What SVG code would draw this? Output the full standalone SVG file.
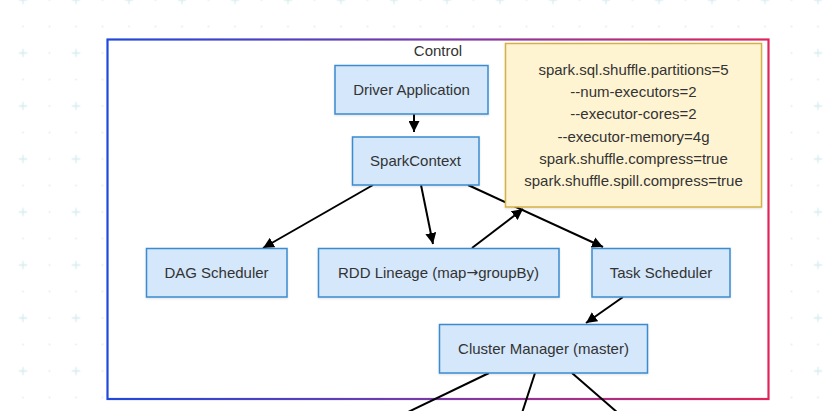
<svg xmlns="http://www.w3.org/2000/svg" width="834" height="411" viewBox="0 0 834 411">
  <defs>
    <pattern id="grid" patternUnits="userSpaceOnUse" x="-3.5" y="-26.5" width="53" height="53">
      <path d="M22.5,26.5 H30.5 M26.5,22.5 V30.5" stroke="#d6ecef" stroke-width="1.3" fill="none"/>
      <circle cx="0" cy="0" r="1" fill="#e0eef0"/>
      <circle cx="53" cy="0" r="1" fill="#e0eef0"/>
      <circle cx="0" cy="53" r="1" fill="#e0eef0"/>
      <circle cx="53" cy="53" r="1" fill="#e0eef0"/>
      <circle cx="26.5" cy="0" r="1" fill="#e0eef0"/>
      <circle cx="26.5" cy="53" r="1" fill="#e0eef0"/>
      <circle cx="0" cy="26.5" r="1" fill="#e0eef0"/>
      <circle cx="53" cy="26.5" r="1" fill="#e0eef0"/>
    </pattern>
    <linearGradient id="border" x1="0" y1="0" x2="1" y2="0">
      <stop offset="0" stop-color="#1f48dc"/>
      <stop offset="0.5" stop-color="#7a3aa8"/>
      <stop offset="1" stop-color="#e0245a"/>
    </linearGradient>
    <marker id="arrow" viewBox="0 0 10 10" refX="10" refY="5" markerWidth="11" markerHeight="11" markerUnits="userSpaceOnUse" orient="auto">
      <path d="M0,0 L10,5 L0,10 z" fill="#000"/>
    </marker>
    <filter id="shadow" x="-10%" y="-10%" width="120%" height="130%">
      <feDropShadow dx="0" dy="1" stdDeviation="1" flood-color="#000" flood-opacity="0.12"/>
    </filter>
  </defs>
  <style>
    .node rect { fill: #d4e7fb; stroke: #3b8bcf; stroke-width: 1.5; }
    .lbl { font-family: "Liberation Sans", Arial, sans-serif; font-size: 15px; fill: #333; text-anchor: middle; dominant-baseline: central; }
    .arr { font-family: "DejaVu Sans", sans-serif; font-size: 14px; }
    .edge { stroke: #000; stroke-width: 2; fill: none; }
    .note rect { fill: #fff4d2; stroke: #d4b048; stroke-width: 1.5; }
  </style>

  <rect x="0" y="0" width="834" height="411" fill="#ffffff"/>
  <rect x="0" y="0" width="834" height="411" fill="url(#grid)"/>

  <g id="control">
    <rect x="107.5" y="39.5" width="661" height="359.5" fill="#ffffff" stroke="url(#border)" stroke-width="2.2"/>
    <text class="lbl" x="438" y="50">Control</text>
  </g>

  <g id="connectors">
    <line class="edge" x1="414" y1="114" x2="414" y2="132" marker-end="url(#arrow)"/>
    <line class="edge" x1="373" y1="185" x2="263" y2="248" marker-end="url(#arrow)"/>
    <line class="edge" x1="421" y1="185" x2="433" y2="244" marker-end="url(#arrow)"/>
    <line class="edge" x1="472" y1="248" x2="523" y2="209" marker-end="url(#arrow)"/>
    <line class="edge" x1="468" y1="185" x2="603" y2="247" marker-end="url(#arrow)"/>
    <line class="edge" x1="623" y1="297" x2="586" y2="323" marker-end="url(#arrow)"/>
    <line class="edge" x1="489" y1="373" x2="406" y2="413"/>
    <line class="edge" x1="535" y1="373" x2="522" y2="413"/>
    <line class="edge" x1="572" y1="373" x2="618" y2="413"/>
  </g>

  <g id="note" class="note">
    <rect x="505.5" y="43.5" width="256" height="163.5" filter="url(#shadow)"/>
    <text class="lbl" x="633.5" y="69.5">spark.sql.shuffle.partitions=5</text>
    <text class="lbl" x="633.5" y="91.5">--num-executors=2</text>
    <text class="lbl" x="633.5" y="113.5">--executor-cores=2</text>
    <text class="lbl" x="633.5" y="136">--executor-memory=4g</text>
    <text class="lbl" x="633.5" y="158">spark.shuffle.compress=true</text>
    <text class="lbl" x="633.5" y="180.5">spark.shuffle.spill.compress=true</text>
  </g>

  <g id="driver" class="node">
    <rect x="335" y="65.5" width="153" height="48.5" filter="url(#shadow)"/>
    <text class="lbl" x="411.5" y="89">Driver Application</text>
  </g>
  <g id="sparkcontext" class="node">
    <rect x="352.5" y="137" width="126.5" height="48" filter="url(#shadow)"/>
    <text class="lbl" x="415.5" y="160">SparkContext</text>
  </g>
  <g id="dag" class="node">
    <rect x="146.5" y="248.5" width="140.5" height="48.5" filter="url(#shadow)"/>
    <text class="lbl" x="216.5" y="272">DAG Scheduler</text>
  </g>
  <g id="rdd" class="node">
    <rect x="318.5" y="248.5" width="240.5" height="48.5" filter="url(#shadow)"/>
    <text class="lbl" x="438.5" y="272">RDD Lineage (map<tspan class="arr">→</tspan>groupBy)</text>
  </g>
  <g id="task" class="node">
    <rect x="592" y="248.5" width="138" height="48.5" filter="url(#shadow)"/>
    <text class="lbl" x="661" y="272">Task Scheduler</text>
  </g>
  <g id="cluster" class="node">
    <rect x="439.5" y="324.5" width="208" height="48.5" filter="url(#shadow)"/>
    <text class="lbl" x="543.5" y="348">Cluster Manager (master)</text>
  </g>
</svg>
